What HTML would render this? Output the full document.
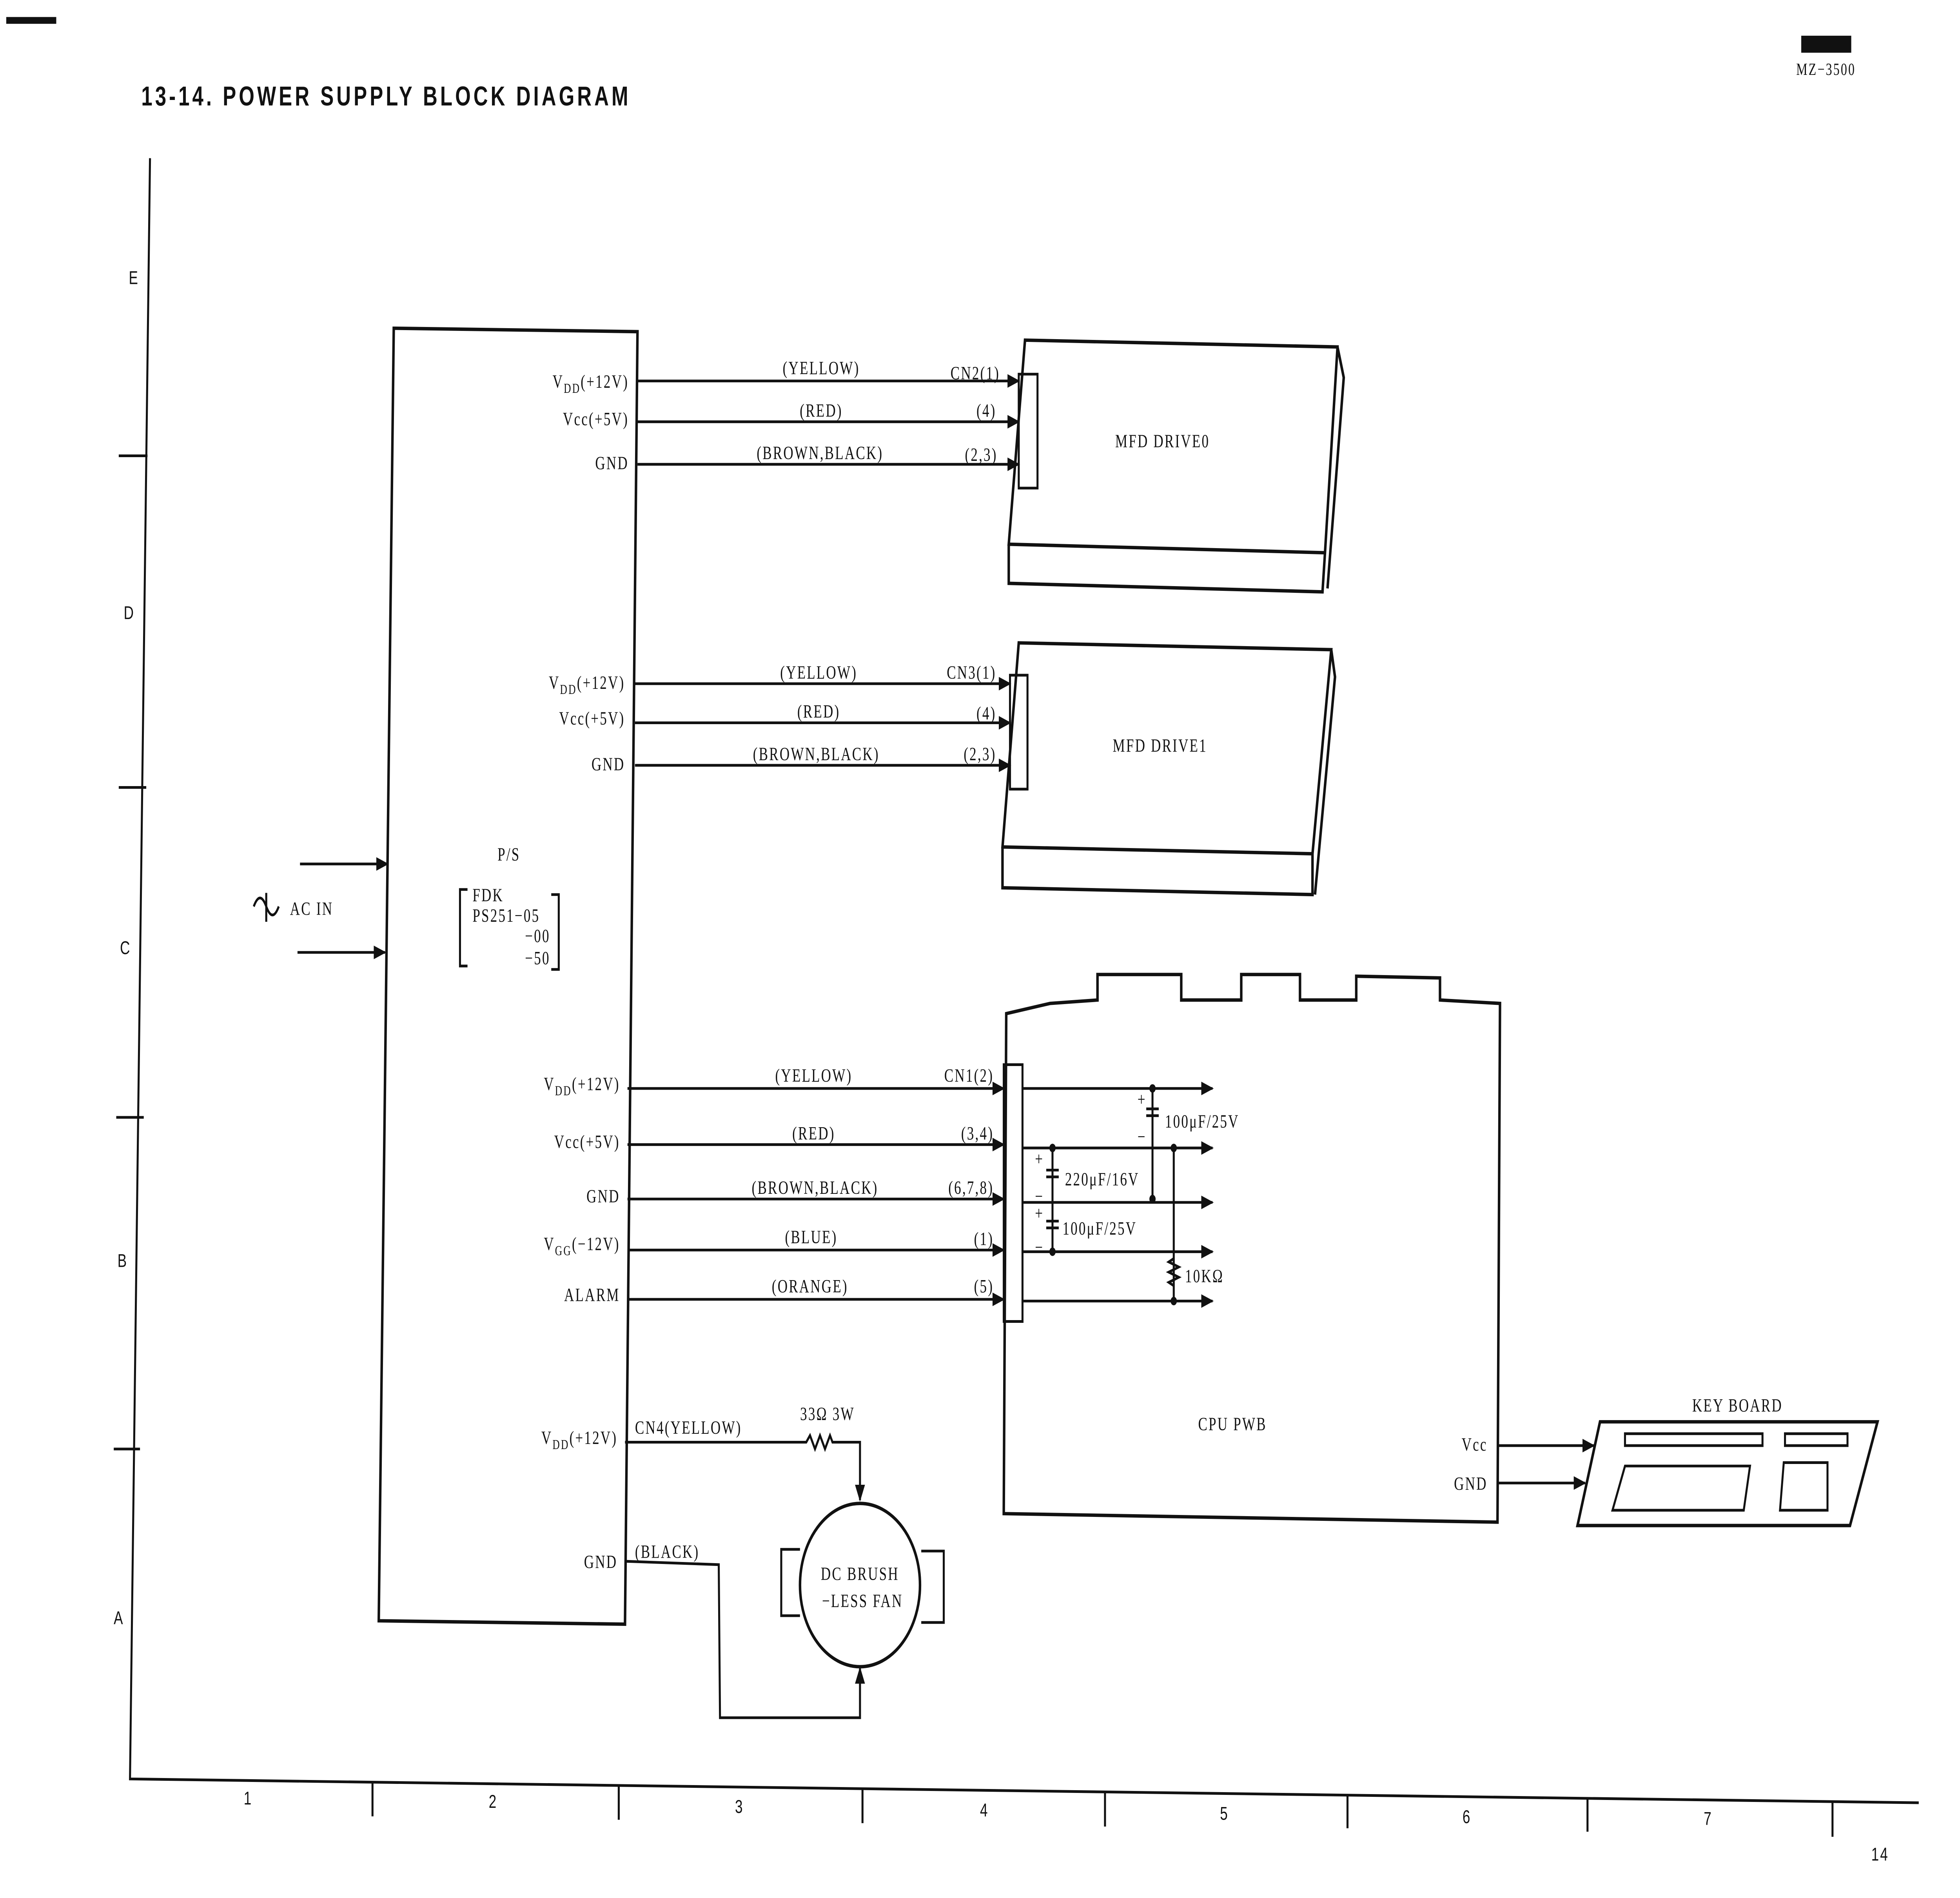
<!DOCTYPE html>
<html><head><meta charset="utf-8"><style>
html,body{margin:0;padding:0;background:#fff;width:100%;height:100%;overflow:hidden;}
svg{display:block;width:100vw;height:100vh;}
text{font-family:"Liberation Serif",serif;font-size:11px;fill:#111;letter-spacing:1px;}
.s{font-family:"Liberation Sans",sans-serif;}
</style></head><body>
<svg viewBox="0 0 1568 1116" preserveAspectRatio="none" xmlns="http://www.w3.org/2000/svg">
<defs><marker id="a" markerWidth="10" markerHeight="8" refX="9" refY="4" orient="auto" markerUnits="userSpaceOnUse"><path d="M0,0 L10,4 L0,8 Z" fill="#111"/></marker></defs>
<rect width="1568" height="1116" fill="#fff"/>
<g stroke="#111" stroke-width="1.6" fill="none">
<path d="M120,93 L104,1046 L1535,1060"/>
<path d="M95,268H118 M95,463H117 M93,657H115 M91,852H112"/>
<path d="M298,1048V1068 M495,1050V1070 M690,1052V1072 M884,1054V1074 M1078,1056V1075 M1270,1058V1077 M1466,1060V1080"/>
<path d="M315,193 L510,195 L500,955 L303,953 Z" stroke-width="2"/>
<path d="M240,508H310" marker-end="url(#a)"/>
<path d="M238,560H308" marker-end="url(#a)"/>
<path d="M203,533 q5,-10 10,0 t10,0 M213,525V542"/>
<path d="M374,523H368V568H374 M441,526H447V570H441"/>
<path d="M820,200 L1070,204 L1060,325 L807,320 Z M807,320 L807,343 L1058,348 L1060,325 M1070,204 L1075,222 L1062,346" stroke-width="2"/>
<path d="M815,220H830V287H815Z"/>
<path d="M510,224H815" marker-end="url(#a)"/>
<path d="M510,248H815" marker-end="url(#a)"/>
<path d="M510,273H815" marker-end="url(#a)"/>
<path d="M815,378 L1065,382 L1050,502 L802,498 Z M802,498 L802,522 L1050,526 L1050,502 M1065,382 L1068,398 L1052,526" stroke-width="2"/>
<path d="M808,397H822V464H808Z"/>
<path d="M508,402H808" marker-end="url(#a)"/>
<path d="M508,425H808" marker-end="url(#a)"/>
<path d="M508,450H808" marker-end="url(#a)"/>
<path d="M805,596 L840,590 L878,588 L878,573 L945,573 L945,588 L993,588 L993,573 L1040,573 L1040,588 L1085,588 L1085,574 L1152,575 L1152,588 L1200,590 L1198,895 L803,890 Z" stroke-width="2"/>
<path d="M803,626H818V777H803Z"/>
<path d="M502,640H803" marker-end="url(#a)"/>
<path d="M502,673H803" marker-end="url(#a)"/>
<path d="M502,705H803" marker-end="url(#a)"/>
<path d="M502,735H803" marker-end="url(#a)"/>
<path d="M502,764H803" marker-end="url(#a)"/>
<path d="M818,640H970" marker-end="url(#a)"/>
<path d="M818,675H970" marker-end="url(#a)"/>
<path d="M818,707H970" marker-end="url(#a)"/>
<path d="M818,736H970" marker-end="url(#a)"/>
<path d="M818,765H970" marker-end="url(#a)"/>
<path d="M922,640V705 M842,675V736 M939,675V765 M939,740 l-4,2 8,3 -8,3 8,3 -8,3 4,2"/>
<path d="M917,652H927 M917,656H927 M837,688H847 M837,692H847 M837,718H847 M837,722H847"/>
<circle cx="688" cy="932" r="48" stroke-width="2"/>
<path d="M640,911H625V950H640 M737,912H755V954H737"/>
<path d="M500,848H645 l3,-4 4,8 4,-8 4,8 4,-8 2,4 H688V882" marker-end="url(#a)"/>
<path d="M500,918 L575,920 L576,1010 H688 V981" marker-end="url(#a)"/>
<path d="M1280,836 L1502,836 L1480,897 L1262,897 Z" stroke-width="2"/>
<path d="M1198,850H1275" marker-end="url(#a)"/>
<path d="M1198,872H1268" marker-end="url(#a)"/>
<path d="M1300,843H1410V850H1300Z M1428,843H1478V850H1428Z M1427,860H1462V888H1424Z M1300,862H1400L1395,888H1290Z"/>
</g>
<g fill="#111"><circle cx="922" cy="640" r="2.5"/><circle cx="922" cy="705" r="2.5"/><circle cx="842" cy="675" r="2.5"/><circle cx="842" cy="736" r="2.5"/><circle cx="939" cy="675" r="2.5"/><circle cx="939" cy="765" r="2.5"/></g>
<rect x="5" y="10" width="40" height="4" fill="#111"/>
<rect x="1441" y="21" width="40" height="10" fill="#111"/>
<text x="1437" y="44" style="font-size:10px">MZ−3500</text>
<text class="s" x="113" y="62" style="font-size:16px;letter-spacing:2.2px;font-weight:bold">13-14. POWER SUPPLY BLOCK DIAGRAM</text>
<text class="s" x="103" y="167">E</text><text class="s" x="99" y="364">D</text><text class="s" x="96" y="561">C</text><text class="s" x="94" y="745">B</text><text class="s" x="91" y="955">A</text>
<text class="s" x="195" y="1061">1</text><text class="s" x="391" y="1063">2</text><text class="s" x="588" y="1066">3</text><text class="s" x="784" y="1068">4</text><text class="s" x="976" y="1070">5</text><text class="s" x="1170" y="1072">6</text><text class="s" x="1363" y="1073">7</text><text class="s" x="1497" y="1094">14</text>
<text x="232" y="538">AC IN</text>
<text x="398" y="506">P/S</text>
<text x="378" y="530">FDK</text><text x="378" y="542">PS251−05</text><text x="420" y="554">−00</text><text x="420" y="567">−50</text>
<g text-anchor="end">
<text x="503" y="228">V<tspan font-size="8" dy="3">DD</tspan><tspan dy="-3">(+12V)</tspan></text>
<text x="503" y="250">Vcc(+5V)</text><text x="503" y="276">GND</text>
<text x="500" y="405">V<tspan font-size="8" dy="3">DD</tspan><tspan dy="-3">(+12V)</tspan></text>
<text x="500" y="426">Vcc(+5V)</text><text x="500" y="453">GND</text>
<text x="496" y="641">V<tspan font-size="8" dy="3">DD</tspan><tspan dy="-3">(+12V)</tspan></text>
<text x="496" y="675">Vcc(+5V)</text><text x="496" y="707">GND</text>
<text x="496" y="735">V<tspan font-size="8" dy="3">GG</tspan><tspan dy="-3">(−12V)</tspan></text>
<text x="496" y="765">ALARM</text>
<text x="494" y="849">V<tspan font-size="8" dy="3">DD</tspan><tspan dy="-3">(+12V)</tspan></text>
<text x="494" y="922">GND</text>
<text x="800" y="223">CN2(1)</text><text x="797" y="245">(4)</text><text x="798" y="271">(2,3)</text>
<text x="797" y="399">CN3(1)</text><text x="797" y="423">(4)</text><text x="797" y="447">(2,3)</text>
<text x="795" y="636">CN1(2)</text><text x="795" y="670">(3,4)</text><text x="795" y="702">(6,7,8)</text><text x="795" y="732">(1)</text><text x="795" y="760">(5)</text>
<text x="1190" y="853">Vcc</text><text x="1190" y="876">GND</text>
</g>
<g text-anchor="middle">
<text x="657" y="220">(YELLOW)</text><text x="657" y="245">(RED)</text><text x="656" y="270">(BROWN,BLACK)</text>
<text x="655" y="399">(YELLOW)</text><text x="655" y="422">(RED)</text><text x="653" y="447">(BROWN,BLACK)</text>
<text x="651" y="636">(YELLOW)</text><text x="651" y="670">(RED)</text><text x="652" y="702">(BROWN,BLACK)</text><text x="649" y="731">(BLUE)</text><text x="648" y="760">(ORANGE)</text>
<text x="930" y="263">MFD DRIVE0</text><text x="928" y="442">MFD DRIVE1</text>
<text x="986" y="841">CPU PWB</text>
<text x="1390" y="830">KEY BOARD</text>
<text x="688" y="929">DC BRUSH</text><text x="690" y="945">−LESS FAN</text>
<text x="662" y="835">33Ω 3W</text>
</g>
<text x="508" y="843">CN4(YELLOW)</text>
<text x="508" y="916">(BLACK)</text>
<text x="932" y="663">100μF/25V</text>
<text x="852" y="697">220μF/16V</text>
<text x="850" y="726">100μF/25V</text>
<text x="948" y="754">10KΩ</text>
<text x="910" y="650">+</text><text x="910" y="672">−</text>
<text x="828" y="685">+</text><text x="828" y="707">−</text>
<text x="828" y="717">+</text><text x="828" y="737">−</text>
</svg>
</body></html>
